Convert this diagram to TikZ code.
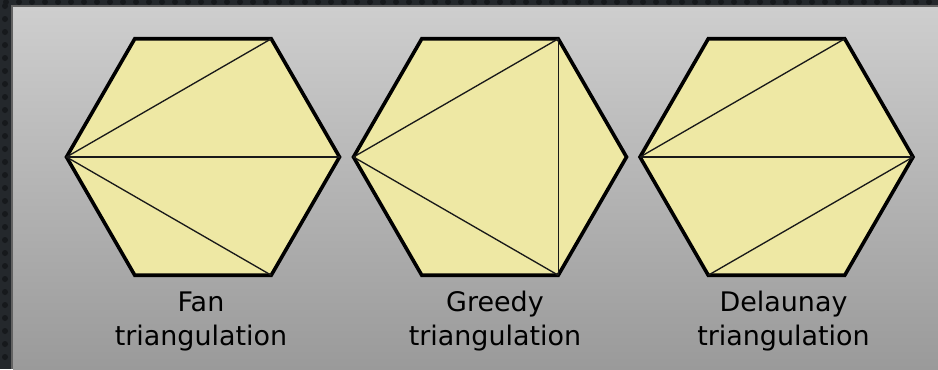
\documentclass[tikz,border=0pt]{standalone}
\usepackage{fontspec}
\setmainfont{DejaVu Sans}
\usepackage{xcolor}
\usepackage{tikz}
\usetikzlibrary{calc}
\definecolor{hexfill}{RGB}{238,232,164}
\definecolor{framedark}{RGB}{36,40,44}
\definecolor{framedot}{RGB}{22,25,28}
\definecolor{panelline}{RGB}{98,98,98}
\definecolor{paneltop}{RGB}{206,206,206}
\definecolor{panelbot}{RGB}{154,154,154}

\begin{document}
\begin{tikzpicture}[x=0.75pt,y=-0.75pt,
        hexa/.style={draw=black, line width=2.7pt, line join=miter,
                     fill=hexfill},
        diag/.style={draw=black!90, line width=1pt},
        lab/.style={font=\fontsize{20.2}{25}\selectfont, align=center,
                    anchor=north, inner sep=0pt, text=black}
      ]
        \def\r{136.5}
        \useasboundingbox (0,0) rectangle (938,369);
        % dark frame with dots
        \fill[framedark] (0,0) rectangle (938,369);
        \foreach \x in {6,19,...,938}
          \fill[framedot] (\x,2) circle (3);
        \foreach \y in {6,19,...,369}
          \fill[framedot] (5,\y) circle (3);
        % grey panel
        \fill[panelline] (11,5) rectangle (938,369);
        \shade[top color=paneltop, bottom color=panelbot]
              (13,7) rectangle (938,369);
        % hexagon corners: 0 right, 1 bottom right, ..., 5 top right
        \foreach \name/\cx in {fan/203,gre/490,del/776.5}
          \foreach \i in {0,...,5}
            \coordinate (\name\i) at ({\cx+\r*cos(\i*60)},{157+\r*sin(\i*60)});
        \foreach \name in {fan,gre,del}
          \draw[hexa] (\name0)--(\name1)--(\name2)--(\name3)--(\name4)--(\name5)--cycle;
        % Fan: all from the left corner
        \draw[diag] (fan3)--(fan5);
        \draw[diag] (fan3)--(fan0);
        \draw[diag] (fan3)--(fan1);
        % Greedy
        \draw[diag] (gre3)--(gre5);
        \draw[diag] (gre3)--(gre1);
        \draw[diag] (gre5)--(gre1);
        % Delaunay
        \draw[diag] (del3)--(del5);
        \draw[diag] (del3)--(del0);
        \draw[diag] (del0)--(del2);
        % labels
        \node[lab] (fanlab) at (201,292) {Fan\\triangulation};
        \node[lab] (grelab) at (495,291) {Greedy\\triangulation};
        \node[lab] (dellab) at (783.5,291) {Delaunay\\triangulation};
      \end{tikzpicture}
\end{document}
